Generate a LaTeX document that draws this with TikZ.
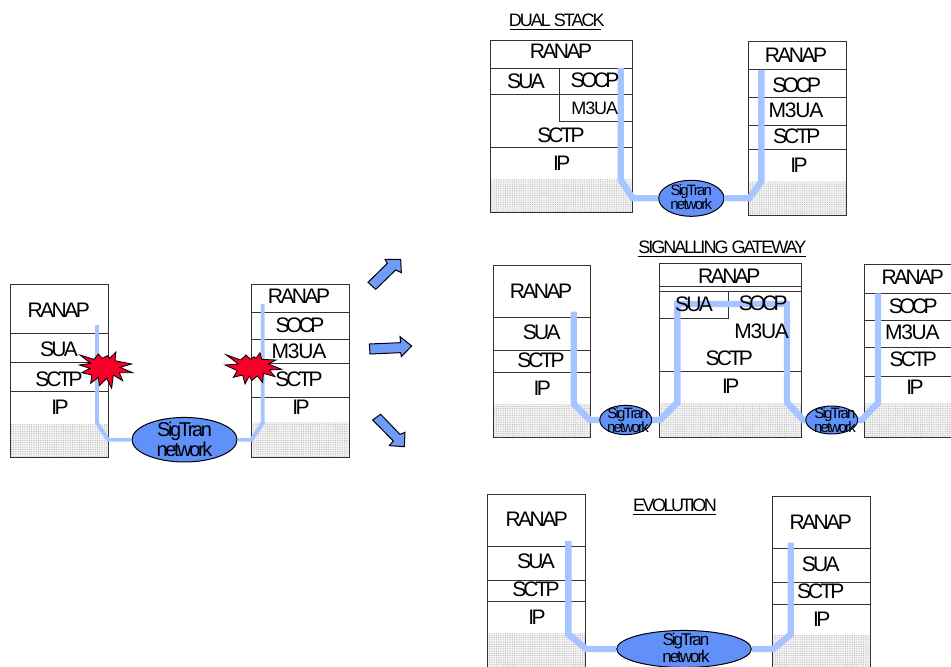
\documentclass[tikz,border=0pt]{standalone}
\usepackage{fontspec}
\setmainfont[LetterSpace=-12]{Liberation Sans}
\usetikzlibrary{shapes.geometric,patterns.meta}
\definecolor{pipeblue}{HTML}{A6C4FF}
\definecolor{netblue}{HTML}{6090F8}
\definecolor{boomred}{HTML}{F8002A}
\newcommand{\tSOCP}{{\addfontfeature{LetterSpace=-17}SOCP}}
\newcommand{\tMUA}{{\addfontfeature{LetterSpace=-6}M3UA}}
\newcommand{\tSCTP}{{\addfontfeature{LetterSpace=-14}SCTP}}
\newcommand{\tSUA}{{\addfontfeature{LetterSpace=-13}SUA}}
\tikzset{
  x=0.75pt,y=-0.75pt,
  lab/.style={inner sep=0pt,font=\fontsize{15.75}{15.75}\selectfont},
  smalllab/.style={inner sep=0pt,font=\fontsize{13.5}{13.5}\selectfont},
  ttl/.style={inner sep=0pt,font=\fontsize{13.5}{13.5}\selectfont\addfontfeature{LetterSpace=-11}},
  nettxt/.style={inner sep=0pt,align=center},
  netw/.style={ellipse,draw=black,line width=0.75pt,fill=netblue,inner sep=0pt},
  wall/.style={draw=black!80,line width=0.75pt},
  pipe/.style={draw=pipeblue,line width=4.8pt,line join=miter},
  thinpipe/.style={draw=pipeblue,line width=2.9pt,line join=miter},
  boom/.style={draw=black,line width=0.6pt,fill=boomred,line join=miter},
  bigarrow/.style={draw=black,line width=0.75pt,fill=netblue!90!white,line join=miter}
}
% #1 x-left, #2 x-right, #3 top, #4 shade start, #5 bottom, #6 list of inner lines
\newcommand{\layerstack}[6]{
  \fill[black!5] (#1,#4) rectangle (#2,#5);
  \fill[pattern={Dots[distance=1.7pt,radius=0.4pt]},pattern color=black!32] (#1,#4) rectangle (#2,#5);
  \draw[wall] (#1,#3) rectangle (#2,#5);
  \foreach \yy in {#6} {\draw[wall] (#1,\yy) -- (#2,\yy);}
}
\begin{document}
\begin{tikzpicture}
\useasboundingbox (0,0) rectangle (951,667);
\clip (0,0) rectangle (951,667);

% stacks
\layerstack{10.5}{108}{284}{424.7}{457.7}{333,362.5,391.5}
\layerstack{251.7}{349}{284}{422.7}{457.7}{312.3,339.3,363.7,397.7}
\layerstack{490}{632.7}{40.3}{180}{212.7}{68.3,94.7,148}
\draw[wall] (559,68.3) -- (559,121.7) -- (632.7,121.7);
\layerstack{748.3}{846}{41.7}{181.7}{215}{70,97.3,125.7,150}
\layerstack{493.3}{590.3}{265}{404}{437.7}{317.3,350.7,372.7}
\layerstack{659}{801.7}{263.3}{403.3}{437.3}{286,291,371.7}
\draw[wall] (728.3,291) -- (728.3,318.7) -- (659,318.7);
\layerstack{864.7}{980}{264.7}{403.3}{437.3}{293,320.3,347.7,376.7}
\layerstack{487.7}{585.3}{494}{633.3}{667}{546,580,601.7}
\layerstack{772.7}{870}{496}{635}{667}{548.3,582.3,604}

% networks
\node[netw,minimum width=78.8pt,minimum height=33.4pt] (net0) at (184.5,439.7) {};
\node[netw,minimum width=49pt,minimum height=27pt] (net1) at (691.3,198.3) {};
\node[netw,minimum width=39pt,minimum height=22pt] (net2) at (625.7,420) {};
\node[netw,minimum width=39pt,minimum height=21pt] (net3) at (831.7,420) {};
\node[netw,minimum width=101pt,minimum height=27.8pt] (net4) at (684,649) {};

% connectors
\coordinate (p0a) at (97,325);
\coordinate (p0b) at (262.7,304);
\draw[thinpipe] (p0a) -- (97,423) -- (108,0 |- net0.west) -- (net0.west);
\draw[thinpipe] (p0b) -- (262.7,423) -- (251.7,0 |- net0.east) -- (net0.east);
\coordinate (p1a) at (620.7,68);
\coordinate (p1b) at (761.3,70);
\draw[pipe] (p1a) -- (620.7,180) -- (632.7,0 |- net1.west) -- (net1.west);
\draw[pipe] (p1b) -- (761.3,181.7) -- (749.3,0 |- net1.east) -- (net1.east);
\coordinate (p2a) at (573.7,311.7);
\draw[pipe] (p2a) -- (573.7,404) -- (590,0 |- net2.west) -- (net2.west);
\draw[pipe] (net2.east) -- (660,0 |- net2.east) -- (677.3,402.7) -- (677.3,304) -- (787,304) -- (787,402.7) -- (803.3,0 |- net3.west) -- (net3.west);
\coordinate (p2b) at (878,293.3);
\draw[pipe] (p2b) -- (878,402.7) -- (861.7,0 |- net3.east) -- (net3.east);
\coordinate (p3a) at (568.3,541);
\coordinate (p3b) at (790.7,542.7);
\draw[pipe] (p3a) -- (568.3,634) -- (586,0 |- net4.west) -- (net4.west);
\draw[pipe] (p3b) -- (790.7,634.3) -- (773.3,0 |- net4.east) -- (net4.east);

% labels
\foreach \nm/\xx/\yy/\txt in {
  a1/58.7/310/RANAP, a2/59/349/\tSUA, a3/59/379/\tSCTP, a4/60/407/IP,
  b1/299/296.7/RANAP, b2/300/325/\tSOCP, b3/299/351.7/\tMUA, b4/299/379/\tSCTP, b5/301/407/IP,
  c1/561/51.7/RANAP, c2/526/81.7/\tSUA, c3/595/80.7/\tSOCP, c5/561/135/\tSCTP, c6/561.7/163.3/IP,
  d1/796/55/RANAP, d2/796.7/85/\tSOCP, d3/796/110.7/\tMUA, d4/796.7/136.7/\tSCTP, d5/799/165/IP,
  e1/541/291.7/RANAP, e2/541.7/332.3/\tSUA, e3/541/360/\tSCTP, e4/542.3/388.3/IP,
  f1/729.3/276.7/RANAP, f2/694/304/\tSUA, f3/763.3/303.3/\tSOCP, f4/761.7/331/\tMUA, f5/729.3/358.3/\tSCTP, f6/730.7/386/IP,
  g1/912.7/277.3/RANAP, g2/913.3/306/\tSOCP, g3/912.3/332.3/\tMUA, g4/913.3/359.3/\tSCTP, g5/915/387.7/IP,
  h1/536.7/519.3/RANAP, h2/536/561.7/\tSUA, h3/536/589.7/\tSCTP, h4/537/617.7/IP,
  i1/820.7/522.3/RANAP, i2/820.7/564/\tSUA, i3/820.7/591.7/\tSCTP, i4/821.7/619.3/IP}
  {\node[lab] (\nm) at (\xx,\yy) {\txt};}
\node[smalllab] (c4) at (594.7,108.3) {\tMUA};

% network texts
\node[nettxt,font=\fontsize{15}{15}\selectfont] (net0t) at (184.5,439.7) {SigTran\\network};
\node[nettxt,font=\fontsize{11.25}{10.5}\selectfont] (net1t) at (691.3,197.5) {SigTran\\network};
\node[nettxt,font=\fontsize{11.25}{10.5}\selectfont] (net2t) at (628,420.5) {SigTran\\network};
\node[nettxt,font=\fontsize{11.25}{10.5}\selectfont] (net3t) at (835,420.5) {SigTran\\network};
\node[nettxt,font=\fontsize{12.75}{13.3}\selectfont] (net4t) at (686,648) {SigTran\\network};

% titles
\node[ttl] (t1) at (556.7,20) {DUAL STACK};
\coordinate (u1a) at (510,29.3); \coordinate (u1b) at (601,29.3);
\draw[black,line width=0.75pt] (u1a) -- (u1b);
\node[ttl] (t2) at (722.3,247.3) {SIGNALLING GATEWAY};
\coordinate (u2a) at (638,256); \coordinate (u2b) at (806,256);
\draw[black,line width=0.75pt] (u2a) -- (u2b);
\node[ttl,font=\fontsize{13.5}{13.5}\selectfont\addfontfeature{LetterSpace=-14}] (t3) at (675,505) {EVOLUTION};
\coordinate (u3a) at (633,514.3); \coordinate (u3b) at (716,514.3);
\draw[black,line width=0.75pt] (u3a) -- (u3b);

% bursts
\draw[boom,shift={(70,340)},x=0.25pt,y=-0.25pt]
  (30,45) -- (72,58) -- (85,42) -- (97,55) -- (112,47) -- (118,55) -- (138,36) -- (135,62)
  -- (185,72) -- (150,82) -- (188,98) -- (148,98) -- (158,122) -- (130,105) -- (125,145)
  -- (110,115) -- (88,137) -- (85,112) -- (62,130) -- (65,105) -- (35,98) -- (60,85) -- (28,75) -- (62,70) -- cycle;
\draw[boom,shift={(220,340)},x=0.25pt,y=-0.25pt]
  (18,44) -- (62,60) -- (78,45) -- (92,58) -- (102,50) -- (108,55) -- (120,38) -- (125,58)
  -- (168,60) -- (145,72) -- (185,88) -- (148,90) -- (165,110) -- (130,100) -- (128,128)
  -- (112,108) -- (95,122) -- (88,108) -- (75,132) -- (68,105) -- (40,112) -- (52,92) -- (15,75) -- (55,72) -- cycle;

% big arrows
\draw[bigarrow,shift={(360,250)},x=0.25pt,y=-0.25pt]
  (24,97) -- (82,40) -- (75,28) -- (122,28) -- (124,68) -- (107,60) -- (47,118) -- cycle;
\draw[bigarrow,shift={(360,330)},x=0.25pt,y=-0.25pt]
  (28,42) -- (122,38) -- (120,20) -- (155,48) -- (124,80) -- (122,68) -- (30,72) -- cycle;
\draw[bigarrow,shift={(360,405)},x=0.25pt,y=-0.25pt]
  (38,45) -- (62,28) -- (120,88) -- (135,82) -- (133,125) -- (88,122) -- (100,108) -- cycle;
\end{tikzpicture}
\end{document}
